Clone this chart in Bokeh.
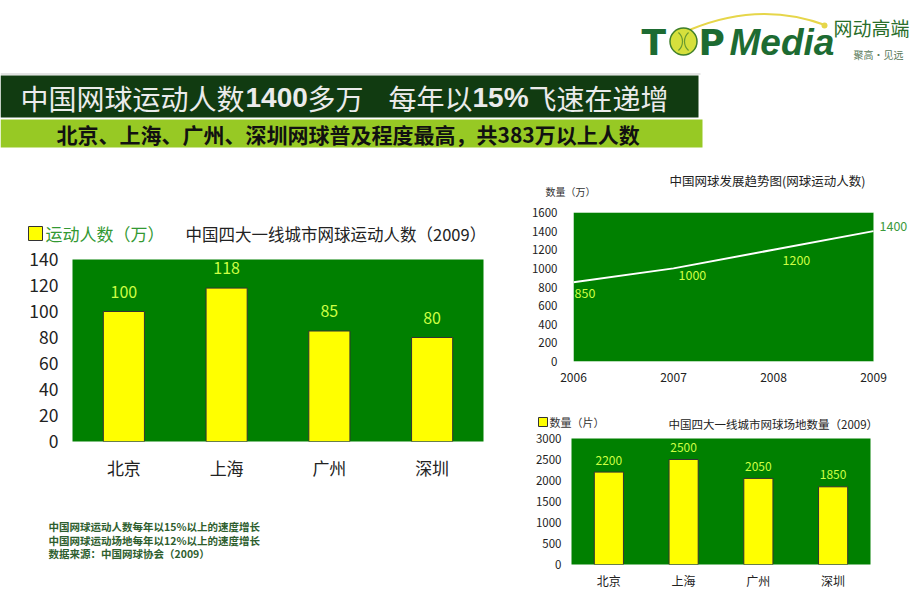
from bokeh.plotting import figure
from bokeh.layouts import column, row
from bokeh.models import (Range1d, ColumnDataSource, LabelSet, BoxAnnotation, SingleIntervalTicker)
from bokeh.core.properties import value, field
from bokeh.embed import file_html
from bokeh.resources import INLINE

CJK = "Noto Sans CJK SC"

# ---------------- data ----------------
cities = ["北京", "上海", "广州", "深圳"]
players_wan = [100, 118, 85, 80]          # 运动人数（万）, 2009
years = [2006, 2007, 2008, 2009]
trend_wan = [850, 1000, 1200, 1400]       # 中国网球运动人数（万）
courts = [2200, 2500, 2050, 1850]         # 场地数量（片）, 2009

headline_parts = ["中国网球运动人数", "1400", "多万", "每年以", "15%", "飞速在递增"]
headline_bold = [False, True, False, False, True, False]
subtitle = "北京、上海、广州、深圳网球普及程度最高，共383万以上人数"
notes = ["中国网球运动人数每年以15%以上的速度增长",
         "中国网球运动场地每年以12%以上的速度增长",
         "数据来源：中国网球协会（2009）"]
left_title = "中国四大一线城市网球运动人数（2009）"
left_legend = "运动人数（万）"
trend_title = "中国网球发展趋势图(网球运动人数)"
trend_unit = "数量（万）"
court_title = "中国四大一线城市网球场地数量（2009）"
court_legend = "数量（片）"

# ---------------- styles ----------------
GREEN = "#008000"
YELLOW = "#ffff00"
VAL_CLR = "#ccff44"
DARK = "#113b11"
LIME = "#97c924"
LOGO = "#1d6b32"

headline_x = [20, 245, 307, 388, 472, 528]
trend_dx = [1, 5, 9, 6]
trend_dy = [-11, -7, -10, 5]
trend_clr = [VAL_CLR, VAL_CLR, VAL_CLR, "#3c9a3c"]


def no_align(p):
    if "frame_align" in p.properties():
        p.frame_align = False
    return p


def page_fig(w, h, x0, y0):
    p = figure(width=w, height=h, x_range=Range1d(x0, x0 + w), y_range=Range1d(y0 + h, y0),
               x_axis_type=None, y_axis_type=None, min_border=0, toolbar_location=None,
               output_backend="svg", outline_line_color=None,
               background_fill_color="white", border_fill_color="white")
    return no_align(p)


def style_axes(p, ysize, xsize, ystand, xstand, color):
    p.grid.visible = False
    for ax in p.axis:
        ax.axis_line_color = None
        ax.major_tick_line_color = None
        ax.minor_tick_line_color = None
        ax.major_label_text_font = CJK
        ax.major_label_text_color = color
    p.yaxis.major_label_text_font_size = ysize
    p.xaxis.major_label_text_font_size = xsize
    p.yaxis.major_label_standoff = ystand
    p.xaxis.major_label_standoff = xstand


# ---------------- header (page coords 0..920 x 0..165) ----------------
hdr = page_fig(920, 165, 0, 0)
hdr.segment(x0=[0], y0=[73.5], x1=[700], y1=[73.5], line_color="#c8c8c8", line_width=1)
hdr.quad(left=[0], right=[698], top=[75], bottom=[117], fill_color=DARK, line_color=None)
hdr.quad(left=[0], right=[702], top=[119], bottom=[147], fill_color=LIME, line_color=None)
for txt, b, x in zip(headline_parts, headline_bold, headline_x):
    hdr.text(x=[x], y=[97], text=[txt], text_font=value("Liberation Sans" if b else CJK),
             text_font_style="bold" if b else "normal", text_font_size="28px",
             text_color="#ebebeb", text_baseline="middle", text_align="left")
hdr.text(x=[56], y=[133], text=[subtitle], text_font=value(CJK), text_font_style="bold",
         text_font_size="21px", text_color="#111111", text_baseline="middle")

# logo
hdr.quadratic(x0=[690], y0=[29], x1=[826], y1=[25], cx=[760], cy=[0], line_color="#e6d64a", line_width=2)
hdr.scatter(x=[824], y=[25], size=6, fill_color="#e6d64a", line_color=None)
hdr.text(x=[641], y=[42], text=["T"], text_font=value("DejaVu Sans"), text_font_style="bold",
         text_font_size="36px", text_color=LOGO, text_baseline="middle")
hdr.scatter(x=[683], y=[41], size=27, fill_color="#d6e03c", line_color="#3f7f2a", line_width=1.5)
hdr.arc(x=[670], y=[41], radius=12, radius_units="screen", start_angle=-0.85, end_angle=0.85,
        line_color="#6a9a30", line_width=1.2)
hdr.arc(x=[696], y=[41], radius=12, radius_units="screen", start_angle=3.14159 - 0.85,
        end_angle=3.14159 + 0.85, line_color="#6a9a30", line_width=1.2)
hdr.text(x=[698], y=[42], text=["P"], text_font=value("DejaVu Sans"), text_font_style="bold",
         text_font_size="36px", text_color=LOGO, text_baseline="middle")
hdr.text(x=[729], y=[42], text=["Media"], text_font=value("Liberation Sans"),
         text_font_style="bold italic", text_font_size="37px", text_color=LOGO,
         text_baseline="middle")
hdr.text(x=[833], y=[27], text=["网动高端"], text_font=value(CJK), text_font_size="19px",
         text_color="#2a6e2a", text_baseline="middle")
hdr.text(x=[853], y=[54], text=["聚高·见远"], text_font=value(CJK), text_font_size="10px",
         text_color="#5a7a5a", text_baseline="middle")

# ---------------- left column ----------------
sl = page_fig(528, 82, 0, 165)
sl.quad(left=[28], right=[42], top=[226], bottom=[240], fill_color=YELLOW, line_color="#333333", line_width=1)
sl.text(x=[45], y=[233], text=[left_legend], text_font=value(CJK), text_font_size="17px",
        text_color="#339933", text_baseline="middle")
sl.text(x=[185], y=[233], text=[left_title], text_font=value(CJK), text_font_size="16.5px",
        text_color="#222222", text_baseline="middle")

src1 = ColumnDataSource(dict(city=cities, val=players_wan, lab=[str(v) for v in players_wan]))
p1 = figure(width=528, height=253, x_range=cities, y_range=Range1d(0, 140),
            min_border_left=72, min_border_right=45, min_border_top=12, min_border_bottom=59,
            toolbar_location=None, output_backend="svg", background_fill_color=GREEN,
            border_fill_color="white", outline_line_color=None)
no_align(p1)
p1.vbar(x="city", top="val", width=0.4, source=src1, fill_color=YELLOW,
        line_color="#333333", line_width=1)
p1.yaxis.ticker = SingleIntervalTicker(interval=20)
style_axes(p1, "17.5px", "17px", 8, 7, "#222222")
p1.add_layout(LabelSet(x="city", y="val", text="lab", source=src1, text_align="center",
                       text_baseline="middle", y_offset=20, text_font=value(CJK),
                       text_font_size=value("16px"), text_color=VAL_CLR))

nt = page_fig(528, 104, 0, 500)
nt.text(x=[48, 48, 48], y=[526, 540, 553], text=notes, text_font=value(CJK), text_font_style="bold",
        text_font_size="10.5px", text_color="#2e5e2e", text_baseline="middle")

# ---------------- right top: trend line ----------------
srt = page_fig(392, 35, 528, 165)
srt.text(x=[767], y=[180], text=[trend_title], text_font=value(CJK), text_font_size="12.5px",
         text_color="#222222", text_baseline="middle", text_align="center")
srt.text(x=[545], y=[191], text=[trend_unit], text_font=value(CJK), text_font_size="10px",
         text_color="#333333", text_baseline="middle")

src2 = ColumnDataSource(dict(yr=years, val=trend_wan, lab=[str(v) for v in trend_wan],
                             dx=trend_dx, dy=trend_dy, clr=trend_clr))
p2 = figure(width=392, height=197, x_range=Range1d(years[0], years[-1] + 0.37), y_range=Range1d(0, 1600),
            min_border_left=39, min_border_right=10, min_border_top=12, min_border_bottom=36,
            toolbar_location=None, output_backend="svg", background_fill_color="white",
            border_fill_color="white", outline_line_color=None)
no_align(p2)
p2.add_layout(BoxAnnotation(left=years[0], right=years[-1], bottom=0, top=1600, level="underlay",
                            fill_color=GREEN, fill_alpha=1, line_color="#8fcf8f", line_width=1))
p2.line(x="yr", y="val", source=src2, line_color="white", line_width=2)
p2.xaxis.ticker = SingleIntervalTicker(interval=1)
p2.yaxis.ticker = SingleIntervalTicker(interval=200)
style_axes(p2, "11.5px", "12px", 10, 5, "#222222")
p2.add_layout(LabelSet(x="yr", y="val", text="lab", source=src2, x_offset=field("dx"),
                       y_offset=field("dy"), text_align="left", text_baseline="middle",
                       text_font=value(CJK), text_font_size=value("12.5px"),
                       text_color=field("clr")))

# ---------------- right bottom: courts ----------------
srb = page_fig(392, 33, 528, 397)
srb.quad(left=[538], right=[547], top=[417], bottom=[426], fill_color=YELLOW, line_color="#333333", line_width=1)
srb.text(x=[549], y=[421], text=[court_legend], text_font=value(CJK), text_font_size="11px",
         text_color="#333333", text_baseline="middle")
srb.text(x=[668], y=[423], text=[court_title], text_font=value(CJK), text_font_size="11.5px",
         text_color="#222222", text_baseline="middle")

src3 = ColumnDataSource(dict(city=cities, val=courts, lab=[str(v) for v in courts]))
p3 = figure(width=392, height=174, x_range=cities, y_range=Range1d(0, 3000),
            min_border_left=43, min_border_right=50, min_border_top=8, min_border_bottom=40,
            toolbar_location=None, output_backend="svg", background_fill_color=GREEN,
            border_fill_color="white", outline_line_color=None)
no_align(p3)
p3.vbar(x="city", top="val", width=0.39, source=src3, fill_color=YELLOW,
        line_color="#333333", line_width=1)
p3.yaxis.ticker = SingleIntervalTicker(interval=500)
style_axes(p3, "11.5px", "12px", 4, 1, "#222222")
p3.add_layout(LabelSet(x="city", y="val", text="lab", source=src3, text_align="center",
                       text_baseline="middle", y_offset=12, text_font=value(CJK),
                       text_font_size=value("12px"), text_color=VAL_CLR))

layout = column(hdr, row(column(sl, p1, nt), column(srt, p2, srb, p3)))
open("out.html", "w").write(file_html(layout, INLINE))
